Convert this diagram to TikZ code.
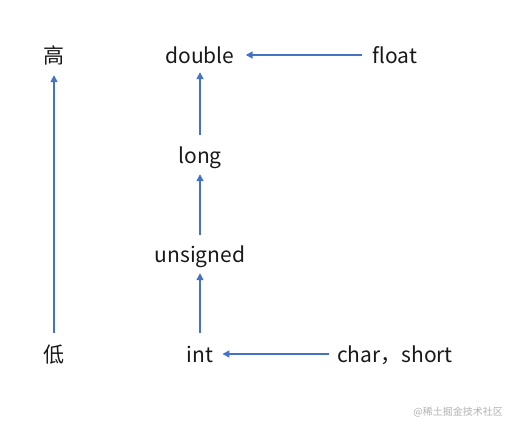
\documentclass[tikz,border=0pt]{standalone}
\usepackage{fontspec}
\setmainfont{Noto Sans CJK SC}
\usetikzlibrary{arrows.meta}
\definecolor{arrblue}{HTML}{4472C4}
\tikzset{
  lbl/.style={inner sep=0pt, text height=16pt, text depth=0pt, anchor=base, font=\fontsize{21}{24}\selectfont, text=black!90},
  arr/.style={draw=arrblue, line width=1.6pt, -{Triangle[length=7pt,width=7pt]}},
  wm/.style={inner sep=0pt, anchor=base east, font=\fontsize{10}{12}\selectfont, text=black!30}
}
\begin{document}
\begin{tikzpicture}[x=1pt,y=-1pt]
\useasboundingbox[fill=white] (0,0) rectangle (508,421);
\node[lbl] (gao) at (54,63) {高};
\node[lbl] (di) at (54,362) {低};
\node[lbl] (double) at (200,63) {double};
\node[lbl] (float) at (395,63) {float};
\node[lbl] (long) at (200,163) {long};
\node[lbl] (unsigned) at (200,262) {unsigned};
\node[lbl] (int) at (200,362) {int};
\node[lbl] (char) at (395,362) {char，short};
\node[wm] (wm) at (503,415) {@稀土掘金技术社区};
\draw[arr, shorten <=13pt, shorten >=12pt] (di.north) -- (gao.south);
\draw[arr, shorten <=10pt, shorten >=11pt] (float.west) -- (double.east);
\draw[arr, shorten <=12pt, shorten >=9pt] (long.north) -- (double.south);
\draw[arr, shorten <=11pt, shorten >=11pt] (unsigned.north) -- (long);
\draw[arr, shorten <=13pt, shorten >=11pt] (int.north) -- (unsigned.south);
\draw[arr, shorten <=8pt, shorten >=9pt] (char.west) -- (int.east);
\end{tikzpicture}
\end{document}
